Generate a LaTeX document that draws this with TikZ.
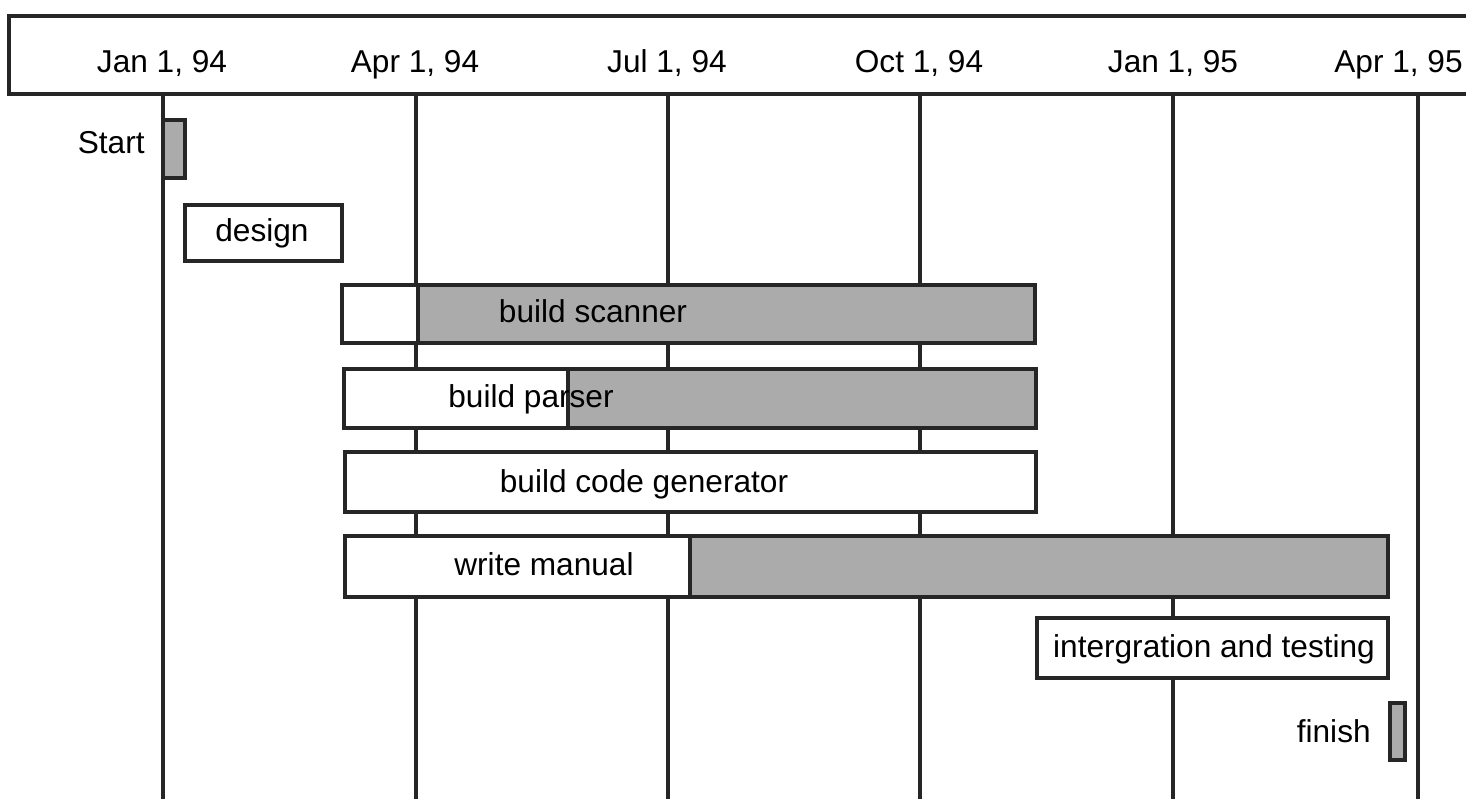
\documentclass[tikz,border=0pt]{standalone}
\usepackage{fontspec}
\setmainfont{Liberation Sans}
\usetikzlibrary{positioning}

\begin{document}
\begin{tikzpicture}[x=0.02cm, y=-0.02cm, font=\fontsize{18}{20}\selectfont]
		\tikzstyle{frame} = [line width=2pt, draw=black!85, fill=white]
		\tikzstyle{grid} = [line width=2pt, draw=black!85]
		\tikzstyle{bar} = [line width=1.8pt, draw=black!85, fill=white]
		\tikzstyle{done} = [line width=1.8pt, draw=black!85, fill=black!33]
		\tikzstyle{invis} = [draw=none, inner sep=0pt, anchor=base]
		
		\useasboundingbox (0,0) rectangle (1466,798);
		\clip (0,0) rectangle (1466,798);
		
		% date header
		\draw[frame] (9,16) rectangle (1480,94);
		\node[invis]	at (162, 72)	(d1)	{Jan 1, 94};
		\node[invis]	at (415, 72)	(d2)	{Apr 1, 94};
		\node[invis]	at (667, 72)	(d3)	{Jul 1, 94};
		\node[invis]	at (919, 72)	(d4)	{Oct 1, 94};
		\node[invis]	at (1173, 72)	(d5)	{Jan 1, 95};
		\node[invis, anchor=base east]	at (1463, 72)	(d6)	{Apr 1, 95};
		
		% quarter lines
		\foreach \x in {163, 416, 668, 920, 1173, 1418}
			\draw[grid] (\x, 94) -- (\x, 800);
		
		% tasks
		\draw[done] (163, 120) rectangle (185, 178);
		\node[invis, anchor=base east]	at (145, 153)	(t0)	{Start};
		
		\draw[bar] (185, 205) rectangle (342, 261);
		\node[invis]	at (262, 241)	(t1)	{design};
		
		\draw[bar] (342, 285) rectangle (418, 343);
		\draw[done] (418, 285) rectangle (1035, 343);
		\node[invis]	at (593, 322)	(t2)	{build scanner};
		
		\draw[bar] (344, 369) rectangle (568, 428);
		\draw[done] (568, 369) rectangle (1036, 428);
		\node[invis]	at (531, 407)	(t3)	{build parser};
		
		\draw[bar] (345, 452) rectangle (1036, 512);
		\node[invis]	at (644, 492)	(t4)	{build code generator};
		
		\draw[bar] (345, 536) rectangle (690, 597);
		\draw[done] (690, 536) rectangle (1388, 597);
		\node[invis]	at (544, 575)	(t5)	{write manual};
		
		\draw[bar] (1037, 618) rectangle (1388, 678);
		\node[invis]	at (1214, 657)	(t6)	{intergration and testing};
		
		\draw[done] (1390, 703) rectangle (1405, 760);
		\node[invis, anchor=base east]	at (1371, 742)	(t7)	{finish};
	\end{tikzpicture}
\end{document}
